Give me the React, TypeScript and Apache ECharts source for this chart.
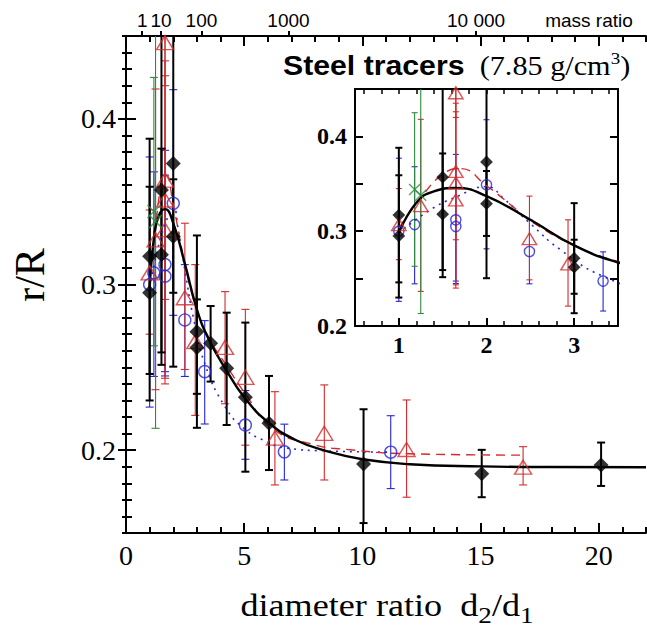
import React, { useEffect, useRef } from "react";
import * as echarts from "echarts";

// ---- axis tick data ----
const massRatioTicks = [1, 10, 100, 1000, 10000];
const massRatioLabels = ["1", "10", "100", "1000", "10 000"];
const densityRatio = 7.85 / 2.55; // mass ratio = densityRatio * d^3
const mainXLabels = [0, 5, 10, 15, 20];
const mainYLabels = [0.2, 0.3, 0.4];
const insetXLabels = [1, 2, 3];
const insetXMinorTicks = [0.6, 0.8, 1.0, 1.2, 1.4, 1.6, 1.8, 2.0, 2.2, 2.4, 2.6, 2.8, 3.0, 3.2, 3.4];

// ---- black diamonds ----
const blackD = [1.0, 1.0, 1.5, 1.5, 2.0, 2.0, 3.0, 3.0, 3.58, 4.26, 5.05, 6.05, 10.05, 15.05, 20.1];
const blackR = [0.317, 0.295, 0.357, 0.318, 0.373, 0.329, 0.2715, 0.262, 0.2645, 0.2495, 0.232, 0.2163, 0.1917, 0.1857, 0.1911];
const blackLo = [0.246, 0.23, 0.2515, 0.259, 0.295, 0.2504, 0.2135, 0.234, 0.2414, 0.2152, 0.187, 0.188, 0.156, 0.1716, 0.1784];
const blackHi = [0.388, 0.359, 0.462, 0.382, 0.46, 0.3635, 0.3296, 0.291, 0.287, 0.283, 0.277, 0.2448, 0.2247, 0.2002, 0.2046];

// ---- red triangles ----
const redD = [1.0, 1.25, 1.65, 1.65, 1.65, 1.65, 2.49, 2.93, 4.19, 5.05, 6.3, 8.39, 11.87, 16.8];
const redR = [0.307, 0.327, 0.446, 0.363, 0.351, 0.333, 0.292, 0.2655, 0.262, 0.244, 0.2072, 0.2102, 0.2004, 0.1897];
const redLo = [0.27, 0.2365, 0.42, 0.291, 0.2434, 0.24, 0.2487, 0.221, 0.228, 0.203, 0.179, 0.182, 0.1716, 0.179];
const redHi = [0.345, 0.418, 0.472, 0.435, 0.4585, 0.426, 0.337, 0.312, 0.2957, 0.285, 0.2353, 0.2394, 0.2303, 0.2021];

// ---- blue circles ----
const blueD = [1.0, 1.18, 1.65, 1.65, 2.0, 2.49, 3.33, 5.05, 6.7, 11.2];
const blueR = [0.3, 0.307, 0.312, 0.305, 0.349, 0.2786, 0.2474, 0.2152, 0.199, 0.1988];
const blueLo = [0.226, 0.2445, 0.2474, 0.2448, 0.2814, 0.2445, 0.2158, 0.1945, 0.182, 0.1768];
const blueHi = [0.377, 0.368, 0.381, 0.366, 0.4176, 0.312, 0.2782, 0.236, 0.2157, 0.2208];

// ---- green crosses ----
const greenD = [1.18, 1.25];
const greenR = [0.344, 0.338];
const greenLo = [0.263, 0.2132];
const greenHi = [0.425, 0.47];

// ---- fitted curves ----
const blackCurveD = [1.0, 1.2, 1.4, 1.65, 2.0, 2.5, 3.0, 3.5, 4.3, 5.0, 6.0, 7.2, 8.6, 10, 12, 15, 18, 22];
const blackCurveR = [0.298, 0.33, 0.342, 0.3455, 0.337, 0.312, 0.285, 0.267, 0.247, 0.232, 0.217, 0.206, 0.199, 0.1945, 0.1915, 0.1902, 0.1898, 0.1897];
const redCurveD = [1.0, 1.25, 1.5, 1.7, 2.0, 2.3, 2.5, 3.0, 3.5, 4.3, 5.0, 6.2, 7.9, 9.3, 12, 16.8];
const redCurveR = [0.303, 0.335, 0.36, 0.366, 0.348, 0.326, 0.311, 0.285, 0.268, 0.25, 0.235, 0.213, 0.2035, 0.2005, 0.1978, 0.197];
const blueCurveD = [1.0, 1.35, 1.65, 2.0, 2.2, 2.5, 2.85, 3.34, 4.2, 5.0, 5.9, 6.7, 8.6, 11.2];
const blueCurveR = [0.298, 0.322, 0.336, 0.347, 0.334, 0.308, 0.28, 0.252, 0.226, 0.213, 0.2055, 0.2015, 0.1995, 0.1988];

const RED = "#d42a2a";
const BLUE = "#2626d4";
const GREEN = "#2f8a3c";
const SERIF = "Liberation Serif";
const SANS = "Liberation Sans";

const zip = (a: number[], b: number[]) => a.map((v, i) => [v, b[i]]);
const zip3 = (a: number[], b: number[], c: number[]) => a.map((v, i) => [v, b[i], c[i]]);

function errSeries(data: number[][], color: string, lw: number, capW: number, xi: number, yi: number) {
  return {
    type: "custom",
    xAxisIndex: xi,
    yAxisIndex: yi,
    clip: true,
    z: 2,
    encode: { x: 0, y: [1, 2] },
    data,
    renderItem: (_p: any, api: any) => {
      const x = api.value(0);
      const lo = api.coord([x, api.value(1)]);
      const hi = api.coord([x, api.value(2)]);
      const style = { stroke: color, lineWidth: lw, fill: null };
      return {
        type: "group",
        children: [
          { type: "line", shape: { x1: lo[0], y1: lo[1], x2: hi[0], y2: hi[1] }, style },
          { type: "line", shape: { x1: lo[0] - capW / 2, y1: lo[1], x2: lo[0] + capW / 2, y2: lo[1] }, style },
          { type: "line", shape: { x1: hi[0] - capW / 2, y1: hi[1], x2: hi[0] + capW / 2, y2: hi[1] }, style },
        ],
      };
    },
  };
}

function seriesFor(xi: number, yi: number, inset: boolean) {
  const k = inset ? 0.85 : 1;
  const line = (d: number[], r: number[], color: string, type: any, w: number) => ({
    type: "line",
    xAxisIndex: xi,
    yAxisIndex: yi,
    data: zip(d, r),
    showSymbol: false,
    smooth: 0.5,
    clip: true,
    z: 3,
    lineStyle: { color, width: w, type },
    silent: true,
  });
  const scatter = (d: number[], r: number[], symbol: string, size: any, item: any) => ({
    type: "scatter",
    xAxisIndex: xi,
    yAxisIndex: yi,
    data: zip(d, r),
    symbol,
    symbolSize: size,
    clip: true,
    z: 4,
    itemStyle: item,
    silent: true,
  });
  return [
    errSeries(zip3(blueD, blueLo, blueHi), BLUE, 1.1, inset ? 6 : 8, xi, yi),
    errSeries(zip3(redD, redLo, redHi), RED, 1.1, inset ? 6 : 8, xi, yi),
    errSeries(zip3(greenD, greenLo, greenHi), GREEN, 1.1, inset ? 6 : 8, xi, yi),
    errSeries(zip3(blackD, blackLo, blackHi), "#000", 2, inset ? 7 : 8, xi, yi),
    line(blueCurveD, blueCurveR, BLUE, [2, 5], 1.6),
    line(redCurveD, redCurveR, RED, [9, 6], 1.4),
    line(blackCurveD, blackCurveR, "#000", "solid", 2.4),
    scatter(blueD, blueR, "circle", 12 * k, { color: "rgba(0,0,0,0)", borderColor: BLUE, borderWidth: 1.4 }),
    scatter(redD, redR, "triangle", [17 * k, 14 * k], { color: "rgba(0,0,0,0)", borderColor: RED, borderWidth: 1.4 }),
    scatter(greenD, greenR, "path://M0 0L10 10M10 0L0 10", 13 * k, { color: "rgba(0,0,0,0)", borderColor: GREEN, borderWidth: 1.4 }),
    scatter(blackD, blackR, "diamond", 15 * k, { color: "#000" }),
  ];
}

const massPos = massRatioTicks.map((m) => Math.cbrt(m / densityRatio));

export default function App() {
  const ref = useRef<HTMLDivElement>(null);
  useEffect(() => {
    const chart = echarts.init(ref.current!, undefined, { renderer: "svg" });
    const black = { color: "#000" };
    const noSplit = { show: false };
    const hiddenLine = { show: false };
    const option: any = {
      animation: false,
      backgroundColor: "#fff",
      grid: [
        { left: 126, top: 36, width: 520, height: 497 },
        { left: 355, top: 89, width: 263, height: 237, show: true, backgroundColor: "#fff", borderWidth: 0 },
      ],
      xAxis: [
        {
          gridIndex: 0, type: "value", min: 0, max: 22, position: "bottom",
          axisLine: { lineStyle: { ...black, width: 2 } },
          axisTick: { inside: true, length: 10, lineStyle: { ...black, width: 2 }, customValues: mainXLabels },
          axisLabel: { customValues: mainXLabels, fontSize: 28, fontFamily: SERIF, color: "#000", margin: 8 },
          splitLine: noSplit,
        },
        {
          gridIndex: 0, type: "value", min: 0, max: 22, interval: 1, position: "bottom",
          axisLine: hiddenLine, axisTick: { inside: true, length: 6, lineStyle: { ...black, width: 2 } },
          axisLabel: { show: false }, splitLine: noSplit,
        },
        {
          gridIndex: 0, type: "value", min: 0, max: 22, position: "top",
          axisLine: { lineStyle: { ...black, width: 2 } },
          axisTick: { inside: true, length: 10, lineStyle: { ...black, width: 2 }, customValues: mainXLabels },
          axisLabel: { show: false }, splitLine: noSplit,
        },
        {
          gridIndex: 0, type: "value", min: 0, max: 22, interval: 1, position: "top",
          axisLine: hiddenLine, axisTick: { inside: true, length: 6, lineStyle: { ...black, width: 2 } },
          axisLabel: { show: false }, splitLine: noSplit,
        },
        {
          gridIndex: 0, type: "value", min: 0, max: 22, position: "top",
          axisLine: hiddenLine,
          axisTick: { inside: false, length: 5, lineStyle: { ...black, width: 2 }, customValues: massPos },
          axisLabel: {
            customValues: massPos, fontSize: 19, fontFamily: SANS, color: "#000", margin: 6,
            formatter: (v: number) => {
              let best = 0;
              massPos.forEach((p, i) => { if (Math.abs(p - v) < Math.abs(massPos[best] - v)) best = i; });
              return massRatioLabels[best];
            },
          },
          splitLine: noSplit,
        },
        {
          gridIndex: 1, type: "value", min: 0.5, max: 3.5, position: "bottom",
          axisLine: { lineStyle: { ...black, width: 2 } },
          axisTick: { inside: true, length: 8, lineStyle: { ...black, width: 2 }, customValues: insetXLabels },
          axisLabel: { customValues: insetXLabels, fontSize: 24, fontFamily: SERIF, fontWeight: "bold", color: "#000", margin: 7 },
          splitLine: noSplit,
        },
        {
          gridIndex: 1, type: "value", min: 0.5, max: 3.5, position: "bottom",
          axisLine: hiddenLine,
          axisTick: { inside: true, length: 5, lineStyle: { ...black, width: 1.5 }, customValues: insetXMinorTicks },
          axisLabel: { show: false }, splitLine: noSplit,
        },
        {
          gridIndex: 1, type: "value", min: 0.5, max: 3.5, position: "top",
          axisLine: { lineStyle: { ...black, width: 2 } },
          axisTick: { inside: true, length: 5, lineStyle: { ...black, width: 1.5 }, customValues: insetXMinorTicks },
          axisLabel: { show: false }, splitLine: noSplit,
        },
      ],
      yAxis: [
        {
          gridIndex: 0, type: "value", min: 0.15, max: 0.45, position: "left",
          axisLine: { show: true, lineStyle: { ...black, width: 2 } },
          axisTick: { show: true, inside: true, length: 10, lineStyle: { ...black, width: 2 }, customValues: mainYLabels },
          axisLabel: { customValues: mainYLabels, fontSize: 28, fontFamily: SERIF, color: "#000", margin: 10, formatter: (v: number) => v.toFixed(1) },
          splitLine: noSplit,
        },
        {
          gridIndex: 0, type: "value", min: 0.15, max: 0.45, interval: 0.01, position: "left",
          axisLine: hiddenLine, axisTick: { show: true, inside: true, length: 6, lineStyle: { ...black, width: 2 } },
          axisLabel: { show: false }, splitLine: noSplit,
        },
        {
          gridIndex: 0, type: "value", min: 0.15, max: 0.45, position: "right",
          axisLine: hiddenLine,
          axisTick: { show: true, inside: true, length: 8, lineStyle: { ...black, width: 2 }, customValues: mainYLabels },
          axisLabel: { show: false }, splitLine: noSplit,
        },
        {
          gridIndex: 0, type: "value", min: 0.15, max: 0.45, interval: 0.01, position: "right",
          axisLine: hiddenLine, axisTick: { show: true, inside: true, length: 4, lineStyle: { ...black, width: 2 } },
          axisLabel: { show: false }, splitLine: noSplit,
        },
        {
          gridIndex: 1, type: "value", min: 0.2, max: 0.45, interval: 0.05, position: "left",
          axisLine: { show: true, lineStyle: { ...black, width: 2 } },
          axisTick: { show: true, inside: true, length: 8, lineStyle: { ...black, width: 2 } },
          axisLabel: {
            fontSize: 24, fontFamily: SERIF, fontWeight: "bold", color: "#000", margin: 8,
            formatter: (v: number) => (Math.abs(v * 10 - Math.round(v * 10)) < 1e-6 && v < 0.44 ? v.toFixed(1) : ""),
          },
          splitLine: noSplit,
        },
        {
          gridIndex: 1, type: "value", min: 0.2, max: 0.45, interval: 0.05, position: "right",
          axisLine: { show: true, lineStyle: { ...black, width: 2 } },
          axisTick: { show: true, inside: true, length: 8, lineStyle: { ...black, width: 2 } },
          axisLabel: { show: false }, splitLine: noSplit,
        },
      ],
      series: [...seriesFor(0, 0, false), ...seriesFor(5, 4, true)],
      graphic: [
        {
          type: "text", x: 589, y: 20,
          style: { text: "mass ratio", fontSize: 19, fontFamily: SANS, fill: "#000", align: "center", verticalAlign: "middle" },
        },
        {
          type: "text", x: 283, y: 50, scaleX: 1.12,
          style: {
            text: "{b|Steel tracers}{n|  (7.85 g/cm}{p|3}{n|)}",
            align: "left", verticalAlign: "top",
            rich: {
              b: { fontSize: 27, fontWeight: "bold", fontFamily: SANS, fill: "#000", lineHeight: 32 },
              n: { fontSize: 27, fontFamily: SERIF, fill: "#000", lineHeight: 32 },
              p: { fontSize: 17, fontFamily: SERIF, fill: "#000", lineHeight: 22, verticalAlign: "top" },
            },
          },
        },
        {
          type: "text", x: 30, y: 275, rotation: Math.PI / 2,
          style: { text: "r/R", fontSize: 42, fontFamily: SERIF, fill: "#000", align: "center", verticalAlign: "middle" },
        },
        {
          type: "text", x: 387, y: 589, scaleX: 1.13,
          style: {
            text: "{a|diameter ratio  d}{s|2}{a|/d}{s|1}",
            align: "center", verticalAlign: "top",
            rich: {
              a: { fontSize: 32, fontFamily: SERIF, fill: "#000", lineHeight: 32, verticalAlign: "top" },
              s: { fontSize: 24, fontFamily: SERIF, fill: "#000", lineHeight: 24, padding: [14, 0, 0, 0], verticalAlign: "top" },
            },
          },
        },
      ],
    };
    chart.setOption(option);
    return () => chart.dispose();
  }, []);
  return <div ref={ref} style={{ position: "fixed", left: 0, top: 0, width: 647, height: 630 }} />;
}
